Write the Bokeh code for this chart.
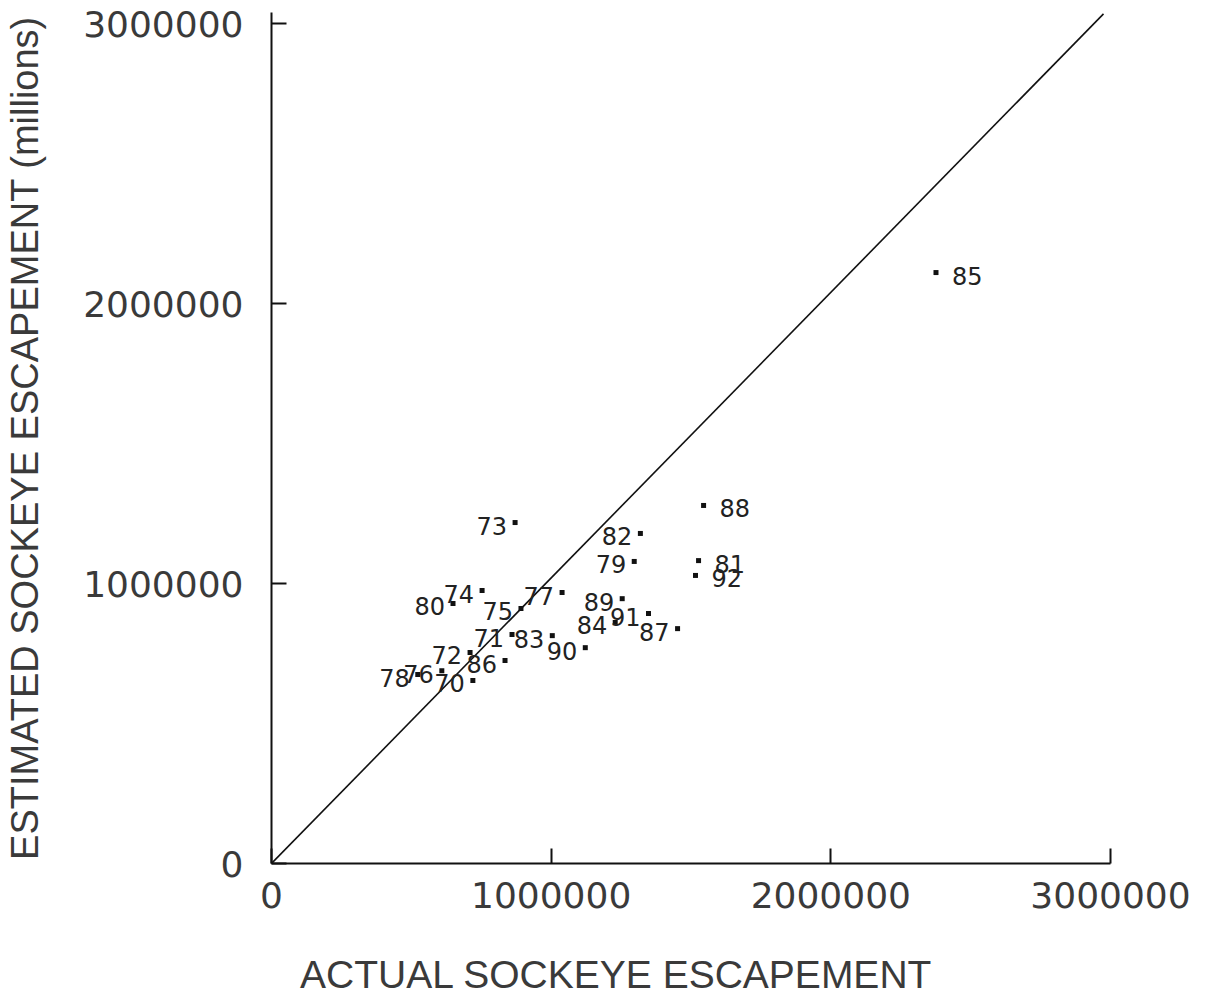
from bokeh.plotting import figure
from bokeh.models import ColumnDataSource, Range1d, FixedTicker, Div
from bokeh.layouts import column
from bokeh.embed import file_html
from bokeh.resources import INLINE
from bokeh.core.properties import value

# Sockeye escapement by year (actual vs estimated)
years_left = ["70", "71", "72", "73", "74", "75", "76", "77", "78", "79", "80",
              "82", "83", "84", "86", "87", "89", "90", "91"]
actual_left = [720000, 860000, 710000, 871000, 753000, 892000, 609000, 1039000, 523000,
               1297000, 649000, 1319000, 1004000, 1229000, 835000, 1452000, 1254000,
               1122000, 1348000]
estimated_left = [654000, 818000, 754000, 1218000, 975000, 911000, 689000, 968000, 675000,
                  1079000, 929000, 1179000, 814000, 861000, 725000, 839000, 946000,
                  771000, 893000]

years_right = ["81", "85", "88", "92"]
actual_right = [1527000, 2376000, 1545000, 1516000]
estimated_right = [1082000, 2111000, 1279000, 1029000]

line_x = [0, 2975000]
line_y = [0, 3035000]

ticks = [0, 1000000, 2000000, 3000000]

x_title = "ACTUAL SOCKEYE ESCAPEMENT"
y_title = "ESTIMATED SOCKEYE ESCAPEMENT (millions)"

BG = "#ffffff"
W, H = 1197, 933
p = figure(width=W, height=H, output_backend="svg", toolbar_location=None,
           x_range=Range1d(0, 3000000), y_range=Range1d(0, 3040000),
           min_border_left=271, min_border_top=12, min_border_bottom=70,
           min_border_right=87)
p.outline_line_color = None
p.grid.visible = False
p.background_fill_color = BG
p.border_fill_color = BG

for ax in (p.xaxis[0], p.yaxis[0]):
    ax.ticker = FixedTicker(ticks=ticks)
    ax.major_label_overrides = {t: str(t) for t in ticks}
    ax.minor_tick_line_color = None
    ax.major_tick_in = 15
    ax.major_tick_out = 0
    ax.axis_line_width = 2
    ax.major_tick_line_width = 2
    ax.axis_line_color = "#111"
    ax.major_tick_line_color = "#111"
    ax.major_label_text_font = "DejaVu Sans"
    ax.major_label_text_font_size = "36px"
    ax.major_label_text_color = "#3a3a3a"

p.yaxis[0].major_label_standoff = 28
p.xaxis[0].major_label_standoff = 18

p.yaxis[0].axis_label = y_title
p.yaxis[0].axis_label_text_font = "Liberation Sans"
p.yaxis[0].axis_label_text_font_size = "38px"
p.yaxis[0].axis_label_text_font_style = "normal"
p.yaxis[0].axis_label_text_color = "#3a3a3a"
p.yaxis[0].axis_label_standoff = 34

p.line(line_x, line_y, line_color="#111", line_width=1.6)

src_l = ColumnDataSource(dict(x=actual_left, y=estimated_left, t=years_left))
src_r = ColumnDataSource(dict(x=actual_right, y=estimated_right, t=years_right))

for src in (src_l, src_r):
    p.scatter("x", "y", source=src, marker="square", size=5,
              fill_color="#111", line_color=None)

p.text("x", "y", text="t", source=src_l, text_align="right", text_baseline="alphabetic",
       x_offset=-8, y_offset=3, text_font=value("DejaVu Sans"), text_font_size="24px",
       text_color="#222")
p.text("x", "y", text="t", source=src_r, text_align="left", text_baseline="alphabetic",
       x_offset=16, y_offset=3, text_font=value("DejaVu Sans"), text_font_size="24px",
       text_color="#222")

xlab = Div(text=('<div style="margin:0; padding:17px 0 0 295px; '
                 'font-family:\'Liberation Sans\'; font-size:39px; line-height:1; '
                 'color:#3a3a3a; white-space:nowrap;">' + x_title + '</div>'),
           width=W, height=996 - H - 6, styles={"background-color": BG})

layout = column(p, xlab, spacing=0)

open("out.html", "w").write(file_html(layout, INLINE))
